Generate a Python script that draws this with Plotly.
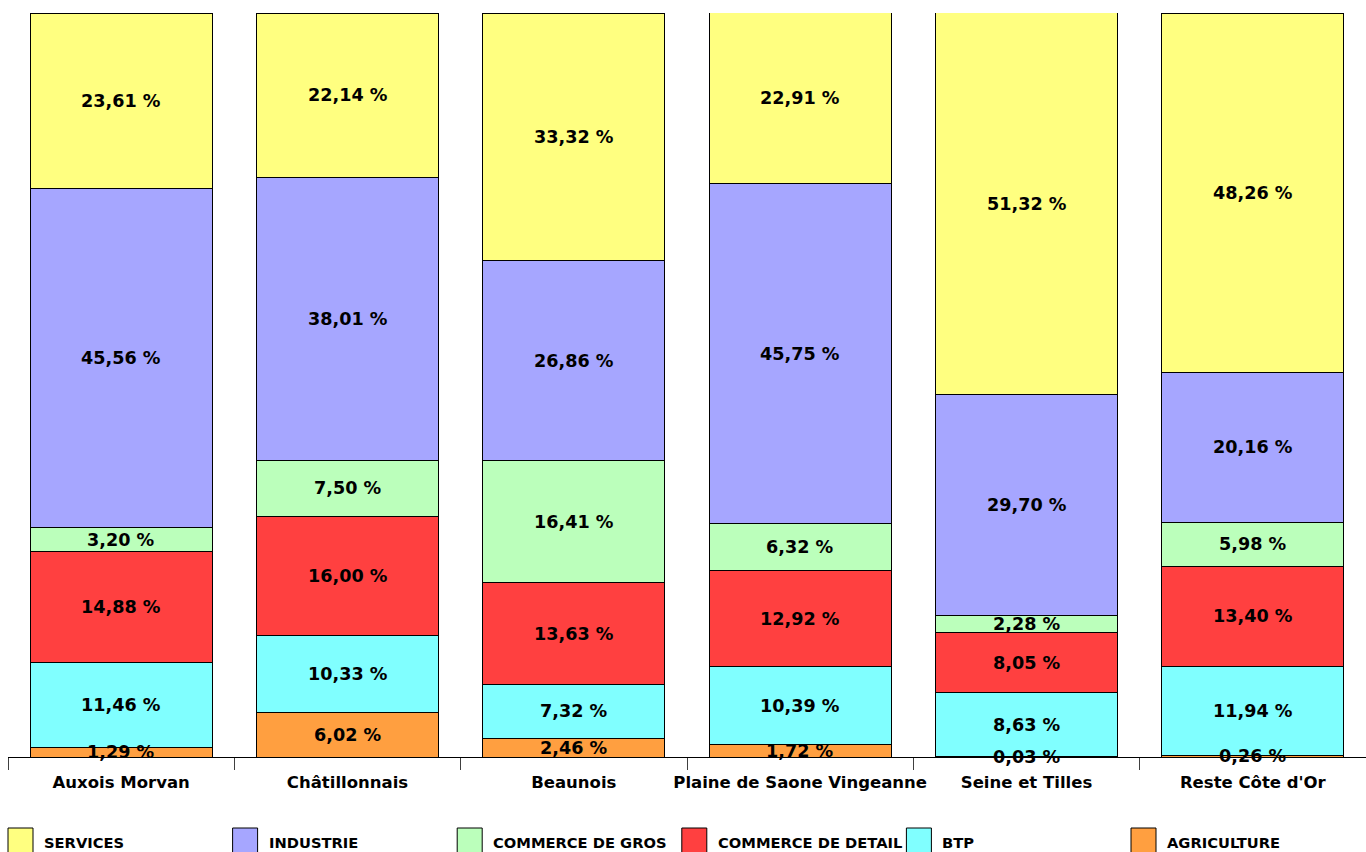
import plotly.graph_objects as go

categories = ["Auxois Morvan", "Châtillonnais", "Beaunois",
              "Plaine de Saone Vingeanne", "Seine et Tilles", "Reste Côte d'Or"]

# stacked from bottom to top
agriculture = [1.29, 6.02, 2.46, 1.72, 0.03, 0.26]
btp = [11.46, 10.33, 7.32, 10.39, 8.63, 11.94]
commerce_detail = [14.88, 16.00, 13.63, 12.92, 8.05, 13.40]
commerce_gros = [3.20, 7.50, 16.41, 6.32, 2.28, 5.98]
industrie = [45.56, 38.01, 26.86, 45.75, 29.70, 20.16]
services = [23.61, 22.14, 33.32, 22.91, 51.32, 48.26]

series_names = ["AGRICULTURE", "BTP", "COMMERCE DE DETAIL",
                "COMMERCE DE GROS", "INDUSTRIE", "SERVICES"]
series_values = [agriculture, btp, commerce_detail, commerce_gros, industrie, services]
series_colors = ["#FF9F40", "#80FFFF", "#FF4040", "#BBFFBB", "#A6A6FF", "#FFFF80"]

W, H = 1366, 852
PL, PR, PT, PB = 8, 1366, 13, 757
FONT = "DejaVu Sans"


def fmt(v):
    return f"{v:.2f}".replace(".", ",") + " %"


fig = go.Figure()
for name, vals, col in zip(series_names, series_values, series_colors):
    fig.add_trace(go.Bar(
        x=categories, y=vals, name=name,
        marker=dict(color=col, line=dict(color="black", width=1)),
        showlegend=False, hoverinfo="skip",
    ))

# value labels as annotations at segment middles (data coordinates), on top of all bars
annotations = []
base = [0.0] * len(categories)
for vals in series_values:
    for j, v in enumerate(vals):
        annotations.append(dict(
            xref="x", yref="y", x=categories[j], y=base[j] + v / 2,
            text=fmt(v), showarrow=False, xanchor="center", yanchor="middle",
            font=dict(family=FONT, size=17.6, color="black", weight="bold"),
        ))
        base[j] += v


def px_x(px):
    return (px - PL) / (PR - PL)


def px_y(py):
    return (PB - py) / (PB - PT)


# legend drawn manually (top-to-bottom order of stack)
legend_order = list(range(len(series_names)))[::-1]
shapes = []
for k, idx in enumerate(legend_order):
    x0 = 8 + 224.6 * k
    shapes.append(dict(type="rect", xref="paper", yref="paper",
                       x0=px_x(x0), x1=px_x(x0 + 25), y0=px_y(828), y1=px_y(870),
                       fillcolor=series_colors[idx], line=dict(color="black", width=1)))
    annotations.append(dict(xref="paper", yref="paper", x=px_x(x0 + 34), y=px_y(842),
                            xanchor="left", yanchor="middle", showarrow=False,
                            text=series_names[idx],
                            font=dict(family=FONT, size=14.7, color="black", weight="bold")))

fig.update_layout(
    width=W, height=H,
    margin=dict(l=PL, r=W - PR, t=PT, b=H - PB, pad=0, autoexpand=False),
    paper_bgcolor="white", plot_bgcolor="white",
    barmode="stack", bargap=0.195,
    showlegend=False,
    shapes=shapes, annotations=annotations,
    font=dict(family=FONT, color="black"),
)
fig.update_xaxes(
    type="category", showgrid=False, zeroline=False, automargin=False,
    showline=True, linecolor="black", linewidth=1, tickangle=0,
    ticks="outside", tickson="boundaries", ticklen=12, tickcolor="#404040", tickwidth=1,
    ticklabelstandoff=10,
    tickfont=dict(family=FONT, size=16.5, color="black", weight="bold"),
)
fig.update_yaxes(range=[0, 100], visible=False, showgrid=False, zeroline=False, automargin=False)

fig.write_html("out.html", config={"displayModeBar": False},
               post_script="document.body.style.margin='0';document.body.style.overflow='hidden';")
